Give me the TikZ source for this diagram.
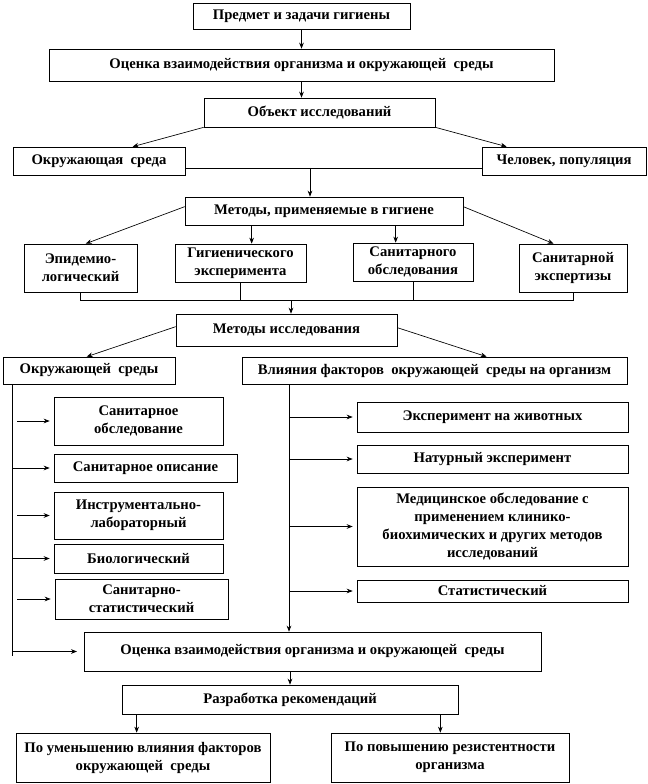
\documentclass[tikz,border=0pt]{standalone}
\usepackage{fontspec}
\setmainfont{Liberation Serif}
\usetikzlibrary{arrows.meta,calc}

\begin{document}
\begin{tikzpicture}[x=0.75pt,y=0.75pt,yscale=-1,xscale=1,
  box/.style={draw, line width=0.5pt, align=center, inner sep=0pt, font=\fontsize{11}{13.5}\selectfont\bfseries},
  arr/.style={-{Stealth[length=4.5pt,width=3.5pt]}, line width=0.5pt},
  ln/.style={line width=0.5pt}]
  \useasboundingbox (0,0) rectangle (648,784);

  % Text Node
  \node [box, minimum width=162.75pt, minimum height=19.5pt] (goal) at (301.5,16) {Предмет и задачи гигиены};
  % Text Node
  \node [box, minimum width=378.75pt, minimum height=24pt] (assess) at (301.5,65) {Оценка взаимодействия организма и окружающей~ среды};
  % Text Node
  \node [box, minimum width=173.25pt, minimum height=21.75pt] (object) at (319.5,112.5) {Объект исследований};
  % Text Node
  \node [box, minimum width=129pt, minimum height=21pt] (env) at (99,161) {Окружающая~ среда};
  % Text Node
  \node [box, minimum width=123pt, minimum height=21pt] (human) at (564,161) {Человек, популяция};
  % Text Node
  \node [box, minimum width=208.5pt, minimum height=21pt] (methods) at (324,211) {Методы, применяемые в гигиене};
  % Text Node
  \node [box, minimum width=84.75pt, minimum height=36pt] (epid) at (80.5,268) {Эпидемио-\\логический};
  % Text Node
  \node [box, minimum width=98.25pt, minimum height=28.5pt] (hygexp) at (240.5,263) {Гигиенического\\эксперимента};
  % Text Node
  \node [box, minimum width=90pt, minimum height=28.5pt] (saninsp) at (413,262) {Санитарного\\обследования};
  % Text Node
  \node [box, minimum width=81pt, minimum height=36pt] (sanexp) at (573,268) {Санитарной\\экспертизы};
  % Text Node
  \node [box, minimum width=165.75pt, minimum height=24pt] (resmeth) at (286.5,330) {Методы исследования};
  % Text Node
  \node [box, minimum width=129pt, minimum height=20.25pt] (envres) at (89,370.5) {Окружающей~ среды};
  % Text Node
  \node [box, minimum width=288.75pt, minimum height=20.25pt] (infl) at (434.5,370.5) {Влияния факторов~ окружающей~ среды на организм};

  % Text Node
  \node [box, minimum width=126.75pt, minimum height=36pt] (lone) at (138.5,421) {Санитарное\\обследование};
  % Text Node
  \node [box, minimum width=137.25pt, minimum height=21pt] (ltwo) at (145.5,468) {Санитарное описание};
  % Text Node
  \node [box, minimum width=126.75pt, minimum height=35.25pt] (lthree) at (138.5,515.5) {Инструментально-\\лабораторный};
  % Text Node
  \node [box, minimum width=126.75pt, minimum height=21.75pt] (lfour) at (138.5,558.5) {Биологический};
  % Text Node
  \node [box, minimum width=129.75pt, minimum height=30pt] (lfive) at (141.5,599) {Санитарно-\\статистический};

  % Text Node
  \node [box, minimum width=203.25pt, minimum height=22.5pt] (rone) at (492.5,417) {Эксперимент на животных};
  % Text Node
  \node [box, minimum width=203.25pt, minimum height=21pt] (rtwo) at (492.5,459) {Натурный эксперимент};
  % Text Node
  \node [box, minimum width=203.25pt, minimum height=59.25pt] (rthree) at (492.5,526.5) {Медицинское обследование с\\применением клинико-\\биохимических и других методов\\исследований};
  % Text Node
  \node [box, minimum width=203.25pt, minimum height=16.5pt] (rfour) at (492.5,591) {Статистический};

  % Text Node
  \node [box, minimum width=342.75pt, minimum height=29.25pt] (assessb) at (312.5,651.5) {Оценка взаимодействия организма и окружающей~ среды};
  % Text Node
  \node [box, minimum width=252pt, minimum height=21.75pt] (recom) at (290,699.5) {Разработка рекомендаций};
  % Text Node
  \node [box, minimum width=190.5pt, minimum height=36.75pt] (reduce) at (143,757.5) {По уменьшению влияния факторов\\окружающей~ среды};
  % Text Node
  \node [box, minimum width=178.5pt, minimum height=36.75pt] (resist) at (450,757.5) {По повышению резистентности\\организма};

  %Straight Lines
  \draw [arr] (goal.south) -- (goal.south |- assess.north);
  \draw [arr] (assess.south) -- (assess.south |- object.north);
  \draw [arr] (object.south west) -- ($(env.north west)+(120,0)$);
  \draw [arr] (object.south east) -- ($(human.north west)+(25,0)$);
  \coordinate (jone) at (310,168);
  \draw [ln] (env.east |- jone) -- (human.west |- jone);
  \draw [arr] (jone) -- (jone |- methods.north);

  %Straight Lines
  \draw [arr] ($(methods.north west)+(0,10)$) -- ($(epid.north west)+(62,0)$);
  \coordinate (hx) at ($(hygexp.north west)+(77,0)$);
  \draw [arr] (hx |- methods.south) -- (hx);
  \coordinate (sx) at ($(saninsp.north west)+(43,0)$);
  \draw [arr] (sx |- methods.south) -- (sx);
  \draw [arr] ($(methods.north east)+(0,10)$) -- ($(sanexp.north west)+(35,0)$);

  %Straight Lines
  \coordinate (jtwo) at (291,300);
  \draw [ln] (epid.south) -- (epid.south |- jtwo) -- (sanexp.south |- jtwo) -- (sanexp.south);
  \draw [ln] (hygexp.south) -- (hygexp.south |- jtwo);
  \draw [ln] (saninsp.south) -- (saninsp.south |- jtwo);
  \draw [arr] (jtwo) -- (jtwo |- resmeth.north);
  \draw [arr] ($(resmeth.north west)+(0,13)$) -- ($(envres.north west)+(84,0)$);
  \draw [arr] ($(resmeth.north east)+(0,14)$) -- ($(infl.north west)+(245,0)$);

  %Straight Lines
  \coordinate (ltop) at (12,384);
  \coordinate (lbot) at (12,656);
  \draw [ln] (ltop) -- (lbot);
  \draw [arr, shorten >=3pt] ($(lone.west -| ltop)+(5,0)$) -- (lone.west);
  \draw [arr, shorten >=3pt] (ltwo.west -| ltop) -- (ltwo.west);
  \draw [arr, shorten >=3pt] ($(lthree.west -| ltop)+(5,0)$) -- (lthree.west);
  \draw [arr, shorten >=3pt] (lfour.west -| ltop) -- (lfour.west);
  \draw [arr, shorten >=3pt] ($(lfive.west -| ltop)+(5,0)$) -- (lfive.west);
  \draw [arr, shorten >=5pt] (assessb.west -| ltop) -- (assessb.west);

  %Straight Lines
  \coordinate (rtop) at (289,384);
  \draw [arr] (rtop) -- (rtop |- assessb.north);
  \draw [arr, shorten >=3pt] (rone.west -| rtop) -- (rone.west);
  \draw [arr, shorten >=3pt] (rtwo.west -| rtop) -- (rtwo.west);
  \draw [arr, shorten >=3pt] (rthree.west -| rtop) -- (rthree.west);
  \draw [arr, shorten >=3pt] (rfour.west -| rtop) -- (rfour.west);

  %Straight Lines
  \draw [arr] (recom.north |- assessb.south) -- (recom.north);
  \coordinate (ra) at ($(recom.south west)+(15,0)$);
  \draw [arr] (ra) -- (ra |- reduce.north);
  \coordinate (rb) at ($(recom.south east)+(-18,0)$);
  \draw [arr] (rb) -- (rb |- resist.north);

\end{tikzpicture}
\end{document}
